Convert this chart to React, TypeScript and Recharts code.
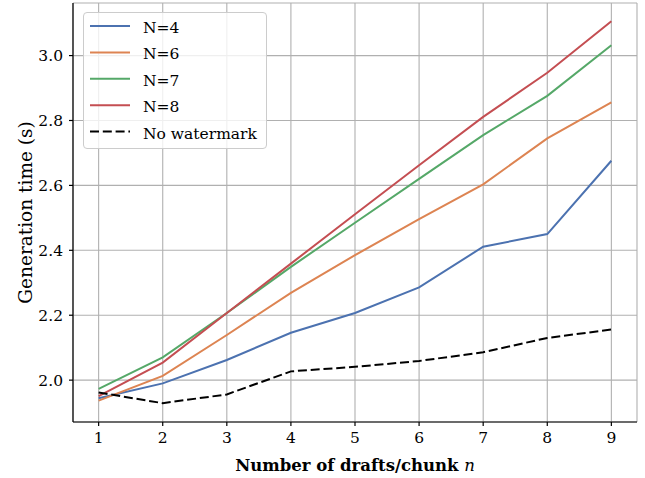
import React from "react";
import {
  LineChart,
  Line,
  XAxis,
  YAxis,
  CartesianGrid,
  Legend,
} from "recharts";

// Drafts per chunk (x axis)
const drafts = [1, 2, 3, 4, 5, 6, 7, 8, 9];

// Generation time in seconds for each watermark window size N
const timeN4 = [1.944, 1.99, 2.062, 2.146, 2.207, 2.286, 2.411, 2.45, 2.676];
const timeN6 = [1.937, 2.013, 2.139, 2.269, 2.385, 2.496, 2.603, 2.745, 2.856];
const timeN7 = [1.973, 2.07, 2.207, 2.349, 2.485, 2.62, 2.755, 2.876, 3.032];
const timeN8 = [1.951, 2.054, 2.207, 2.359, 2.511, 2.662, 2.811, 2.947, 3.106];
const timeNoWatermark = [1.962, 1.929, 1.956, 2.027, 2.041, 2.059, 2.086, 2.13, 2.156];

const xTicks = [1, 2, 3, 4, 5, 6, 7, 8, 9];
const yTicks = [2.0, 2.2, 2.4, 2.6, 2.8, 3.0];

const seriesDefs = [
  { key: "n4", name: "N=4", values: timeN4, color: "#4c72b0", dash: undefined },
  { key: "n6", name: "N=6", values: timeN6, color: "#dd8452", dash: undefined },
  { key: "n7", name: "N=7", values: timeN7, color: "#55a868", dash: undefined },
  { key: "n8", name: "N=8", values: timeN8, color: "#c44e52", dash: undefined },
  { key: "nowm", name: "No watermark", values: timeNoWatermark, color: "#000000", dash: "9 3.8" },
];

const data = drafts.map((d, i) => {
  const row: Record<string, number> = { drafts: d };
  seriesDefs.forEach((s) => {
    row[s.key] = s.values[i];
  });
  return row;
});

const FONT = "'DejaVu Serif', 'Liberation Serif', serif";

const LegendBox = (props: any) => {
  const payload = props.payload || [];
  const rowH = 26.4;
  return (
    <div
      style={{
        width: 184,
        height: 137,
        boxSizing: "border-box",
        border: "1px solid #cccccc",
        borderRadius: 4,
        background: "rgba(255,255,255,0.8)",
      }}
    >
      <svg width={182} height={135} style={{ display: "block" }}>
        {payload.map((entry: any, i: number) => {
          const y = 13 + i * rowH;
          const dash = entry.payload && entry.payload.strokeDasharray;
          return (
            <g key={entry.value}>
              <line
                x1={6}
                x2={46}
                y1={y}
                y2={y}
                stroke={entry.color}
                strokeWidth={2}
                strokeDasharray={dash}
              />
              <text
                x={59}
                y={y + 7}
                fontFamily={FONT}
                fontSize={15.5}
                fill="#000"
              >
                {entry.value}
              </text>
            </g>
          );
        })}
      </svg>
    </div>
  );
};

export default function App() {
  return (
    <div style={{ position: "absolute", left: 0, top: 0, background: "#fff" }}>
      <LineChart
        width={645}
        height={478}
        data={data}
        margin={{ top: 3, right: 8, left: 0, bottom: 0 }}
      >
        <CartesianGrid stroke="#b0b0b0" strokeWidth={1.1} />
        <XAxis
          dataKey="drafts"
          type="number"
          domain={[0.6, 9.4]}
          ticks={xTicks}
          height={56}
          stroke="#000"
          strokeWidth={1.2}
          tickSize={4}
          tickMargin={6}
          tick={{ fill: "#000", fontFamily: FONT, fontSize: 15.5 }}
          label={{
            content: (p: any) => {
              const vb = p.viewBox;
              return (
                <text
                  x={vb.x + vb.width / 2}
                  y={471}
                  textAnchor="middle"
                  fontFamily={FONT}
                  fontSize={16.5}
                  fontWeight="bold"
                  fill="#000"
                >
                  Number of drafts/chunk{" "}
                  <tspan fontStyle="italic" fontWeight="normal">
                    n
                  </tspan>
                </text>
              );
            },
          }}
        />
        <XAxis
          xAxisId="top"
          orientation="top"
          dataKey="drafts"
          type="number"
          domain={[0.6, 9.4]}
          height={0}
          tick={false}
          tickLine={false}
          stroke="#000"
          strokeWidth={1.2}
        />
        <YAxis
          type="number"
          domain={[1.871, 3.162]}
          ticks={yTicks}
          width={73}
          stroke="#000"
          strokeWidth={1.2}
          tickSize={4}
          tickMargin={6}
          tickFormatter={(v: number) => v.toFixed(1)}
          tick={{ fill: "#000", fontFamily: FONT, fontSize: 15.5 }}
          label={{
            content: (p: any) => {
              const vb = p.viewBox;
              const cy = vb.y + vb.height / 2;
              return (
                <text
                  x={31.5}
                  y={cy}
                  transform={`rotate(-90, 31.5, ${cy})`}
                  textAnchor="middle"
                  fontFamily={FONT}
                  fontSize={18.5}
                  fill="#000"
                >
                  Generation time (s)
                </text>
              );
            },
          }}
        />
        <YAxis
          yAxisId="right"
          orientation="right"
          domain={[1.871, 3.162]}
          width={0}
          tick={false}
          tickLine={false}
          stroke="#000"
          strokeWidth={1.2}
        />
        {seriesDefs.map((s) => (
          <Line
            key={s.key}
            dataKey={s.key}
            name={s.name}
            stroke={s.color}
            strokeWidth={2}
            strokeDasharray={s.dash}
            dot={false}
            activeDot={false}
            isAnimationActive={false}
          />
        ))}
        <Legend
          layout="vertical"
          align="center"
          verticalAlign="middle"
          wrapperStyle={{ left: 83, top: 12, width: 184, height: 137 }}
          content={LegendBox}
        />
      </LineChart>
    </div>
  );
}
